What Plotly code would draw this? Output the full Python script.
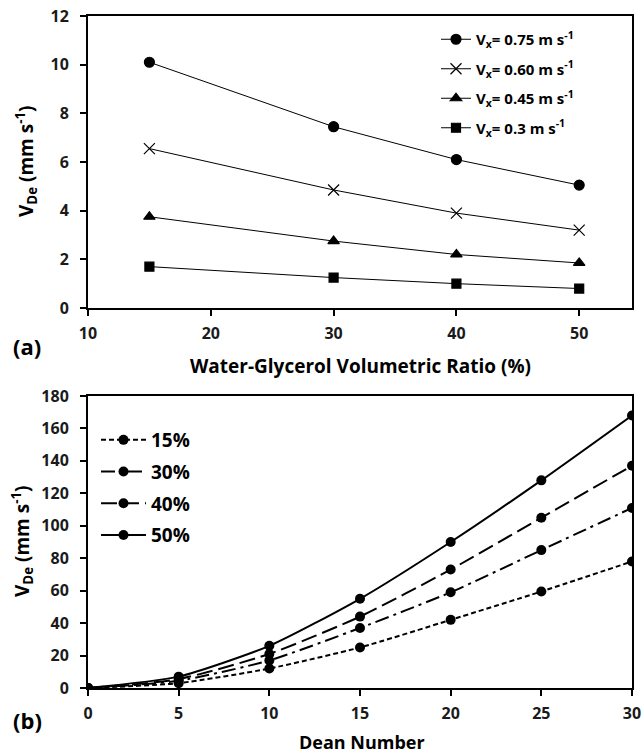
import plotly.graph_objects as go

# ---- data panel (a) ----
ratio = [15, 30, 40, 50]
v075 = [10.1, 7.45, 6.1, 5.05]
v060 = [6.55, 4.85, 3.9, 3.2]
v045 = [3.75, 2.75, 2.2, 1.85]
v030 = [1.7, 1.25, 1.0, 0.8]
names_a = ["V<sub>x</sub>= 0.75 m s<sup>-1</sup>", "V<sub>x</sub>= 0.60 m s<sup>-1</sup>",
           "V<sub>x</sub>= 0.45 m s<sup>-1</sup>", "V<sub>x</sub>= 0.3 m s<sup>-1</sup>"]

# ---- data panel (b) ----
dean = [0, 5, 10, 15, 20, 25, 30]
r15 = [0, 3, 12, 25, 42, 59.5, 78]
r30 = [0, 4.5, 17, 37, 59, 85, 111]
r40 = [0, 5.5, 21, 44, 73, 105, 137]
r50 = [0, 7, 26, 55, 90, 128, 168]
names_b = ["15%", "30%", "40%", "50%"]

FONT = "Open Sans"
W, H = 643, 754

def px_x(p):
    return p / W

def px_y(p):
    return 1 - p / H

fig = go.Figure()

syms = ["circle", "x-thin-open", "triangle-up", "square"]
sizes = [10, 11, 10, 9]
for i, (ys, nm, s, sz) in enumerate(zip([v075, v060, v045, v030], names_a, syms, sizes)):
    fig.add_trace(go.Scatter(
        x=ratio, y=ys, name=nm, mode="lines+markers", legendgroup=f"a{i}",
        line=dict(color="black", width=1),
        marker=dict(symbol=s, size=sz, color="black",
                    line=dict(color="black", width=1.2)),
        xaxis="x", yaxis="y", legend="legend"))

dashes = ["5px,3px", "14px,5px,3px,5px", "16px,6px", "solid"]
for i, (ys, nm, d) in enumerate(zip([r15, r30, r40, r50], names_b, dashes)):
    fig.add_trace(go.Scatter(
        x=dean, y=ys, name=nm, mode="lines+markers", legendgroup=f"b{i}",
        line=dict(color="black", width=2, dash=d, shape="spline", smoothing=0.6),
        marker=dict(symbol="circle", size=10, color="black"),
        xaxis="x2", yaxis="y2", legend="legend2"))

tickfont = dict(family=FONT, size=16, color="#1a1a1a", weight="bold")
common = dict(showline=True, linecolor="black", linewidth=2, mirror=True,
              ticks="outside", ticklen=6, tickwidth=2, tickcolor="black",
              showgrid=False, zeroline=False, tickfont=tickfont, automargin=False)

fig.update_layout(
    width=W, height=H, margin=dict(l=0, r=0, t=0, b=0, autoexpand=False),
    plot_bgcolor="white", paper_bgcolor="white",
    font=dict(family=FONT, color="black"),
    xaxis=dict(domain=[px_x(88), px_x(632)], range=[10, 54.3],
               tickvals=[10, 20, 30, 40, 50], ticklabelstandoff=4,
               anchor="y", **common),
    yaxis=dict(domain=[px_y(308), px_y(16)], range=[0, 12], dtick=2,
               ticklabelstandoff=8, anchor="x", **common),
    xaxis2=dict(domain=[px_x(88), px_x(632)], range=[0, 30], dtick=5,
                ticklabelstandoff=4, anchor="y2", **common),
    yaxis2=dict(domain=[px_y(688), px_y(396)], range=[0, 180], dtick=20,
                ticklabelstandoff=8, anchor="x2", **common),
    legend=dict(x=px_x(436), y=px_y(23), xanchor="left", yanchor="top",
                bgcolor="rgba(0,0,0,0)",
                font=dict(family=FONT, size=15, weight="bold"),
                tracegroupgap=7, itemwidth=30),
    legend2=dict(x=px_x(96), y=px_y(421), xanchor="left", yanchor="top",
                 bgcolor="rgba(0,0,0,0)",
                 font=dict(family=FONT, size=19, weight="bold"),
                 tracegroupgap=4, itemwidth=45),
    showlegend=True,
)

ann = [
    dict(text="<b>V<sub>De</sub> (mm s<sup>-1</sup>)</b>", x=px_x(26), y=px_y(162),
         textangle=-90, font=dict(size=19)),
    dict(text="<b>Water-Glycerol Volumetric Ratio (%)</b>", x=px_x(360), y=px_y(366),
         font=dict(size=19)),
    dict(text="<b>(a)</b>", x=px_x(27), y=px_y(346), font=dict(size=22)),
    dict(text="<b>V<sub>De</sub> (mm s<sup>-1</sup>)</b>", x=px_x(22), y=px_y(542),
         textangle=-90, font=dict(size=19)),
    dict(text="<b>Dean Number</b>", x=px_x(362), y=px_y(742), font=dict(size=18)),
    dict(text="<b>(b)</b>", x=px_x(27), y=px_y(720), font=dict(size=22)),
]
for a in ann:
    a.update(xref="paper", yref="paper", showarrow=False,
             xanchor="center", yanchor="middle")
    a["font"].update(family=FONT, color="black")
    fig.add_annotation(**a)

fig.write_html("out.html")
